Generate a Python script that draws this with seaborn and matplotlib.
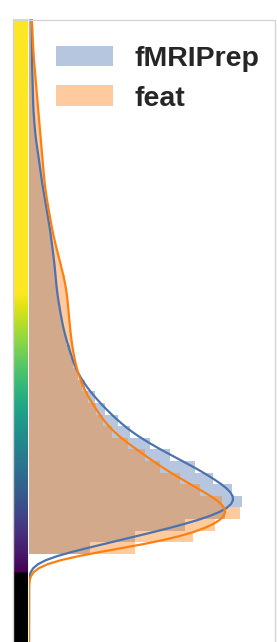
import numpy as np
import pandas as pd
import matplotlib
matplotlib.use("Agg")
import matplotlib.pyplot as plt
from matplotlib.patches import Rectangle, Patch
import seaborn as sns

# histogram of intensities, bins start at 0 with width 10
bin_start = 0
bin_width = 10
fmriprep_counts = [61, 106, 156, 196, 213, 203, 184, 166, 141, 121, 101, 89, 76, 66,
                   56, 49, 44, 41, 37, 34, 32, 30, 28, 27, 26, 25, 23, 22, 20, 18,
                   16, 14, 12, 11, 9, 7, 6, 5, 4, 4, 4, 3, 3, 3, 3, 3, 3]
feat_counts = [106, 164, 186, 211, 193, 171, 151, 131, 116, 99, 83, 74, 67, 59,
               53, 49, 46, 44, 42, 41, 40, 39, 38, 36, 33, 30, 27, 24, 22, 20,
               18, 16, 15, 14, 13, 12, 11, 10, 9, 8, 7, 6, 5, 4, 4, 3, 3]
pipelines = ["fMRIPrep", "feat"]

# colour scale used for the intensity bar on the left
cmap_min = -16
cmap_max = 225
y_range = (-76, 461)

sns.set_theme(style="white")
plt.rcParams["font.family"] = ["Liberation Sans", "DejaVu Sans"]

n_bins = len(fmriprep_counts)
bin_stop = bin_start + bin_width * n_bins
centers = bin_start + bin_width * (np.arange(n_bins) + 0.5)

df = pd.DataFrame({
    "intensity": np.concatenate([centers, centers]),
    "count": np.concatenate([fmriprep_counts, feat_counts]),
    "pipeline": np.repeat(pipelines, n_bins),
})

W, H = 277, 642
fig = plt.figure(figsize=(W / 100, H / 100), dpi=100)
ax = fig.add_axes([29 / W, 0, 245 / W, 623 / H])
cax = fig.add_axes([13 / W, 0, 15 / W, 623 / H])

colors = {"fMRIPrep": "#4c72b0", "feat": "#ff7f0e"}
# one call per pipeline so feat is layered over fMRIPrep
for name in pipelines:
    sns.histplot(data=df[df["pipeline"] == name], y="intensity", weights="count",
                 binwidth=bin_width, binrange=(bin_start, bin_stop),
                 kde=True, alpha=0.4, color=colors[name], linewidth=0, ax=ax,
                 kde_kws=dict(bw_adjust=0.18, cut=10),
                 line_kws=dict(linewidth=1.6))

ax.set_ylim(*y_range)
ax.set_xlim(0, 245)
ax.set_xlabel("")
ax.set_ylabel("")
ax.set_xticks([])
ax.set_yticks([])
for s in ax.spines.values():
    s.set_visible(False)

# intensity colour bar
cmap = plt.get_cmap("viridis").copy()
cmap.set_under("black")
vals = np.linspace(y_range[0], y_range[1], 600)[:, None]
cax.imshow(vals, aspect="auto", origin="lower", cmap=cmap,
           vmin=cmap_min, vmax=cmap_max,
           extent=[0, 1, y_range[0], y_range[1]])
cax.set_xticks([])
cax.set_yticks([])
for s in cax.spines.values():
    s.set_visible(False)

# thin frame around the panel
fig.add_artist(Rectangle((12.5 / W, -0.05), 262 / W, 0.05 + 622.5 / H,
                         transform=fig.transFigure, fill=False,
                         edgecolor="#d5d5d5", linewidth=1, clip_on=False))

handles = [Patch(facecolor=colors[n], alpha=0.4, linewidth=0) for n in pipelines]
ax.legend(handles, pipelines, loc="upper left",
          bbox_to_anchor=(56 / W, 1 - 46 / H), bbox_transform=fig.transFigure,
          frameon=False, prop=dict(weight="bold", size=20.5),
          handlelength=2.0, handleheight=0.72, handletextpad=0.75,
          labelspacing=0.47, borderpad=0, borderaxespad=0)

fig.savefig("out.png", dpi=100)
